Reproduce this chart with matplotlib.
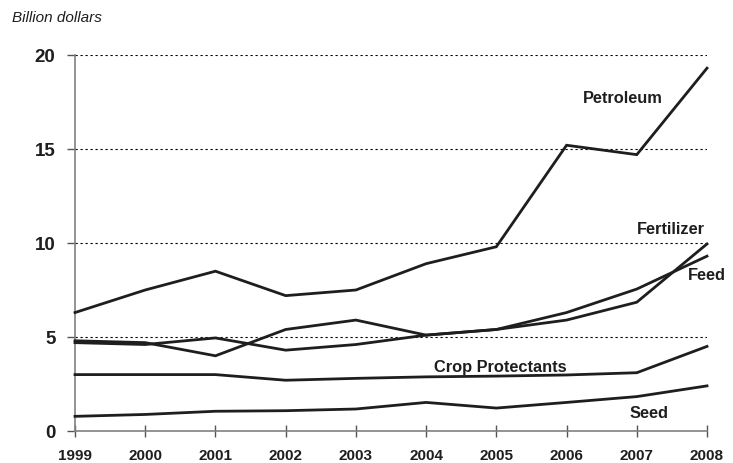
import matplotlib
matplotlib.use("Agg")
import matplotlib.pyplot as plt

years = [1999, 2000, 2001, 2002, 2003, 2004, 2005, 2006, 2007, 2008]
petroleum = [6.3, 7.5, 8.5, 7.2, 7.5, 8.9, 9.8, 15.2, 14.7, 19.3]
fertilizer = [4.8, 4.7, 4.0, 5.4, 5.9, 5.1, 5.4, 5.9, 6.85, 9.95]
feed = [4.7, 4.6, 4.95, 4.3, 4.6, 5.1, 5.4, 6.3, 7.55, 9.3]
crop_protectants = [3.0, 3.0, 3.0, 2.7, 2.8, 2.88, 2.92, 2.98, 3.1, 4.5]
seed = [0.78, 0.88, 1.05, 1.08, 1.17, 1.52, 1.22, 1.52, 1.83, 2.4]
yticks = [0, 5, 10, 15, 20]

series = [petroleum, fertilizer, feed, crop_protectants, seed]
labels = ["Petroleum", "Fertilizer", "Feed", "Crop Protectants", "Seed"]
label_pos = [(2006.8, 17.75, "center"), (2007.48, 10.75, "center"),
             (2008.0, 8.3, "center"), (2005.05, 3.45, "center"), (2007.18, 1.0, "center")]

plt.rcParams['font.family'] = ['Liberation Sans', 'DejaVu Sans']

fig = plt.figure(figsize=(7.33, 4.64), dpi=100)
ax = fig.add_axes([75/733, 1-432/464, (707-75)/733, (432-56)/464])

for yv in yticks[1:]:
    ax.axhline(yv, color='black', lw=0.8, ls=(0, (2, 2.5)), zorder=1)

for s in series:
    ax.plot(years, s, color='#1e1e1e', lw=2.0, solid_joinstyle='miter', zorder=3, clip_on=False)

for lab, (x, y, ha) in zip(labels, label_pos):
    ax.text(x, y, lab, ha=ha, va='center', fontsize=11.8, fontweight='bold', color='#1e1e1e')

ax.set_xlim(1999, 2008)
ax.set_ylim(0, 20)
ax.set_xticks(years)
ax.set_yticks(yticks)
ax.set_xticklabels([str(y) for y in years], fontsize=11, fontweight='bold')
ax.set_yticklabels([str(v) for v in yticks], fontsize=13.5, fontweight='bold')
for sp in ['top', 'right']:
    ax.spines[sp].set_visible(False)
for sp in ['left', 'bottom']:
    ax.spines[sp].set_color('#808080')
    ax.spines[sp].set_linewidth(1.2)
ax.tick_params(axis='x', direction='inout', length=8, width=1, color='#555555', pad=8, labelcolor='#1e1e1e')
ax.tick_params(axis='y', direction='out', length=6, width=1, color='#555555', pad=8, labelcolor='#1e1e1e')

fig.text(12/733, 1-18/464, "Billion dollars", fontsize=11, fontstyle='italic', ha='left', va='center', color='#1e1e1e')

fig.savefig("out.png", dpi=100)
